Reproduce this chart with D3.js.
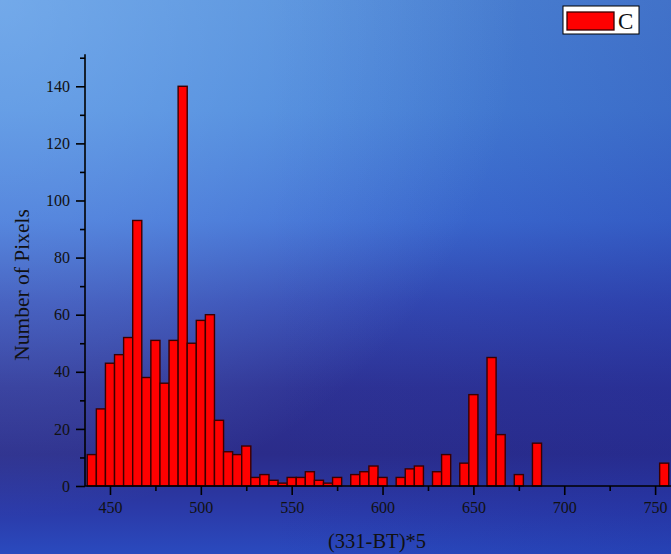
<!DOCTYPE html>
<html>
<head>
<meta charset="utf-8">
<script src="https://cdn.jsdelivr.net/npm/d3@7"></script>
<style>
  html, body { margin: 0; padding: 0; overflow: hidden; }
  svg { display: block; }
  text { font-family: "Liberation Serif", "Times New Roman", serif; fill: #111; }
</style>
</head>
<body>
<svg id="chart" width="671" height="554"></svg>
<script>
// bin centres (step 5) and pixel counts
var binCenters = d3.range(440, 760, 5);
var counts = [11, 27, 43, 46, 52, 93, 38, 51, 36, 51, 140, 50, 58, 60, 23, 12, 11, 14, 3, 4,
              2, 1, 3, 3, 5, 2, 1, 3, 0, 4, 5, 7, 3, 0, 3, 6, 7, 0, 5, 11,
              0, 8, 32, 0, 45, 18, 0, 4, 0, 15, 0, 0, 0, 0, 0, 0, 0, 0, 0, 0,
              0, 0, 0, 8];
var binWidth = 5;
var xMajorTicks = [450, 500, 550, 600, 650, 700, 750];
var xMinorTicks = [475, 525, 575, 625, 675, 725];
var yMajorTicks = [0, 20, 40, 60, 80, 100, 120, 140];
var yMinorTicks = [10, 30, 50, 70, 90, 110, 130, 150];
var seriesName = "C";
var xTitle = "(331-BT)*5";
var yTitle = "Number of Pixels";

var svg = d3.select("#chart");
var W = 671, H = 554;

// background gradients
var defs = svg.append("defs");
var bg = defs.append("linearGradient").attr("id", "bg")
    .attr("x1", 0).attr("y1", 0).attr("x2", 0).attr("y2", 1);
[[0, "#4f8ad8"], [0.2, "#4783d8"], [0.4, "#3d6dd2"], [0.55, "#3449b2"],
 [0.7, "#2e3294"], [0.82, "#2b2c8a"], [0.92, "#2b3aa8"], [1, "#2a4abe"]].forEach(function(s) {
    bg.append("stop").attr("offset", s[0]).attr("stop-color", s[1]);
});
var glow = defs.append("radialGradient").attr("id", "glow")
    .attr("gradientUnits", "userSpaceOnUse")
    .attr("cx", 0).attr("cy", 0).attr("r", 520);
glow.append("stop").attr("offset", 0).attr("stop-color", "#9fd0ff").attr("stop-opacity", 0.45);
glow.append("stop").attr("offset", 1).attr("stop-color", "#9fd0ff").attr("stop-opacity", 0);
var shade = defs.append("linearGradient").attr("id", "shade")
    .attr("x1", 0).attr("y1", 0).attr("x2", 1).attr("y2", 0);
shade.append("stop").attr("offset", 0.4).attr("stop-color", "#1a2a9a").attr("stop-opacity", 0);
shade.append("stop").attr("offset", 1).attr("stop-color", "#1a2a9a").attr("stop-opacity", 0.25);

svg.append("rect").attr("width", W).attr("height", H).attr("fill", "url(#bg)");
svg.append("rect").attr("width", W).attr("height", H).attr("fill", "url(#shade)");
svg.append("rect").attr("width", W).attr("height", H).attr("fill", "url(#glow)");

var x = d3.scaleLinear().domain([436.25, 758.75]).range([85, 671]);
var y = d3.scaleLinear().domain([0, 151.2]).range([486, 54.3]);

var data = binCenters.map(function(c, i) { return { c: c, n: counts[i] }; })
    .filter(function(d) { return d.n > 0; });

svg.append("g").selectAll("rect")
    .data(data)
    .enter().append("rect")
    .attr("x", function(d) { return x(d.c - binWidth / 2); })
    .attr("width", function(d) { return x(d.c + binWidth / 2) - x(d.c - binWidth / 2); })
    .attr("y", function(d) { return y(d.n); })
    .attr("height", function(d) { return y(0) - y(d.n); })
    .attr("fill", "#ff0000")
    .attr("stroke", "#3a0000")
    .attr("stroke-width", 1.4);

// y axis
var yAxis = svg.append("g").attr("transform", "translate(85,0)")
    .call(d3.axisLeft(y).tickValues(yMajorTicks).tickSize(9).tickPadding(6));
svg.append("g").attr("transform", "translate(85,0)")
    .call(d3.axisLeft(y).tickValues(yMinorTicks).tickSize(5).tickFormat(""))
    .select(".domain").remove();

// x axis
var xAxis = svg.append("g").attr("transform", "translate(0,486)")
    .call(d3.axisBottom(x).tickValues(xMajorTicks).tickSize(9).tickPadding(7));
svg.append("g").attr("transform", "translate(0,486)")
    .call(d3.axisBottom(x).tickValues(xMinorTicks).tickSize(5).tickFormat(""))
    .select(".domain").remove();

svg.selectAll(".domain").attr("stroke", "#000").attr("stroke-width", 1.6);
yAxis.select(".domain").attr("d", "M0," + y(0) + "V" + y(151.2));
xAxis.select(".domain").attr("d", "M" + x(436.25) + ",0H" + x(758.75));
svg.selectAll(".tick line").attr("stroke", "#000").attr("stroke-width", 1.6);
svg.selectAll(".tick text").style("font-size", "16px")
    .style("font-family", "'Liberation Serif', serif").attr("fill", "#111");

// titles
svg.append("text")
    .attr("transform", "translate(29,285) rotate(-90)")
    .attr("text-anchor", "middle")
    .style("font-size", "21.5px")
    .text(yTitle);
svg.append("text")
    .attr("x", 377).attr("y", 548)
    .attr("text-anchor", "middle")
    .style("font-size", "20.5px")
    .text(xTitle);

// legend
var legend = svg.append("g");
legend.append("rect").attr("x", 563).attr("y", 6).attr("width", 76).attr("height", 28)
    .attr("fill", "#fff").attr("stroke", "#000").attr("stroke-width", 1);
legend.append("rect").attr("x", 567).attr("y", 12).attr("width", 47).attr("height", 18)
    .attr("fill", "#ff0000").attr("stroke", "#3a0000").attr("stroke-width", 1.3);
legend.append("text").attr("x", 618).attr("y", 29)
    .style("font-size", "23px").text(seriesName);
</script>
</body>
</html>
